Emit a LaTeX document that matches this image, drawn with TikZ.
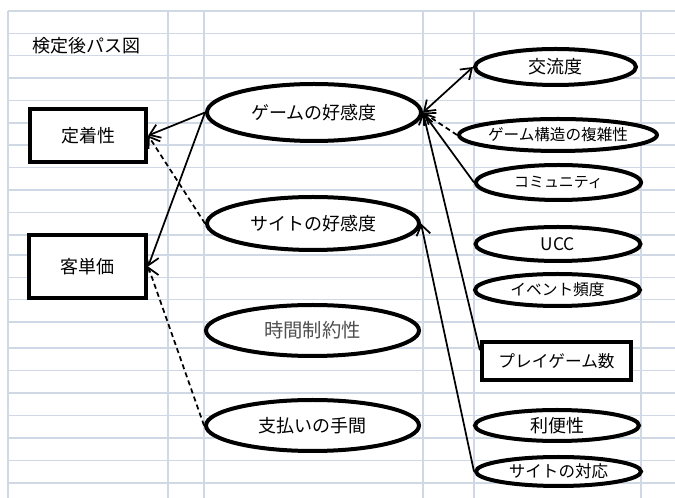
\documentclass[tikz,border=0pt]{standalone}
\usepackage{fontspec}
\setmainfont{Noto Sans CJK JP}
\usetikzlibrary{shapes.geometric,arrows.meta}
\definecolor{gridc}{HTML}{D0D7E5}
\definecolor{graytxt}{HTML}{505050}
\tikzset{
  ell/.style={ellipse, draw=black, line width=3pt, inner sep=0pt, fill=white},
  box/.style={rectangle, draw=black, line width=3.2pt, inner sep=0pt, fill=white},
  conn/.style={line width=1.3pt, draw=black},
  dconn/.style={conn, dash pattern=on 3.8pt off 2.6pt},
  tip/.style={-{Straight Barb[length=7.5pt,width=10.5pt,line width=1.3pt]}},
  btip/.style={{Straight Barb[length=7.5pt,width=10.5pt,line width=1.3pt]}-{Straight Barb[length=7.5pt,width=10.5pt,line width=1.3pt]}},
}
\newcommand{\fs}[1]{\fontsize{#1}{#1}\selectfont}
\begin{document}
\begin{tikzpicture}[x=0.75pt,y=-0.75pt]
\useasboundingbox (0,0) rectangle (675,498);
\fill[white] (0,0) rectangle (675,498);
% grid
\foreach \yy in {11,33.3,55.7,78.2,100.6,122.9,145.2,167.7,190.1,212.5,234.9,255,277.4,299.7,322,348,370.5,393,415.3,437.8,460.3,483}
  \draw[gridc, line width=1.1pt] (8,\yy) -- (675,\yy);
\foreach \xx in {8,168,204,423,474,641}
  \draw[gridc, line width=1.1pt] (\xx,11) -- (\xx,498);

% title
\node[anchor=west, inner sep=0pt] (title) at (32,46) {\fs{13.5pt}検定後パス図};

% left boxes
\node[box, minimum width=87pt, minimum height=39.75pt] (teichaku) at (88,135.5) {\fs{13.5pt}定着性};
\node[box, minimum width=87.75pt, minimum height=47.25pt] (kyaku) at (87.5,266.5) {\fs{13.5pt}客単価};

% middle ellipses
\node[ell, minimum width=160.5pt, minimum height=42.75pt] (game) at (314,112.5) {\fs{13.5pt}ゲームの好感度};
\node[ell, minimum width=159pt, minimum height=39.75pt] (site) at (313,223.5) {\fs{13.5pt}サイトの好感度};
\node[ell, minimum width=159.75pt, minimum height=38.25pt] (jikan) at (312.5,330.5) {\fs{14.5pt}\color{graytxt}時間制約性};
\node[ell, minimum width=159.75pt, minimum height=38.25pt] (shiharai) at (312.5,425.5) {\fs{13.5pt}支払いの手間};

% right ellipses
\node[ell, minimum width=120.75pt, minimum height=27pt] (koryu) at (555.5,67) {\fs{13.5pt}交流度};
\node[ell, minimum width=124.5pt, minimum height=24pt] (kozo) at (558,135) {\fs{11.7pt}ゲーム構造の複雑性};
\node[ell, minimum width=123.75pt, minimum height=26.25pt] (comm) at (558.5,182.5) {\fs{11.2pt}コミュニティ};
\node[ell, minimum width=123.75pt, minimum height=25.5pt] (ucc) at (558,244) {\fs{13pt}UCC};
\node[ell, minimum width=123.75pt, minimum height=24pt] (event) at (557.5,290) {\fs{11.8pt}イベント頻度};
\node[box, minimum width=111.75pt, minimum height=28.5pt] (play) at (556.5,361) {\fs{12.5pt}プレイゲーム数};
\node[ell, minimum width=123pt, minimum height=23.25pt] (benri) at (557,425.5) {\fs{13.5pt}利便性};
\node[ell, minimum width=123.75pt, minimum height=21.75pt] (taio) at (558.5,471.5) {\fs{12.4pt}サイトの対応};

% connectors
\draw[conn, tip] (game.west) -- (teichaku.east);
\draw[dconn, tip] (site.west) -- (teichaku.east);
\draw[conn, tip] (game.west) -- (kyaku.east);
\draw[dconn, tip] (shiharai.west) -- (kyaku.east);
\draw[conn, btip] (game.east) -- (koryu.west);
\draw[dconn, tip] (kozo.west) -- (game.east);
\draw[conn, tip] (comm.west) -- (game.east);
\draw[conn, tip] (play.172) -- (game.east);
\draw[conn, tip] (taio.west) -- (site.east);
\end{tikzpicture}
\end{document}
